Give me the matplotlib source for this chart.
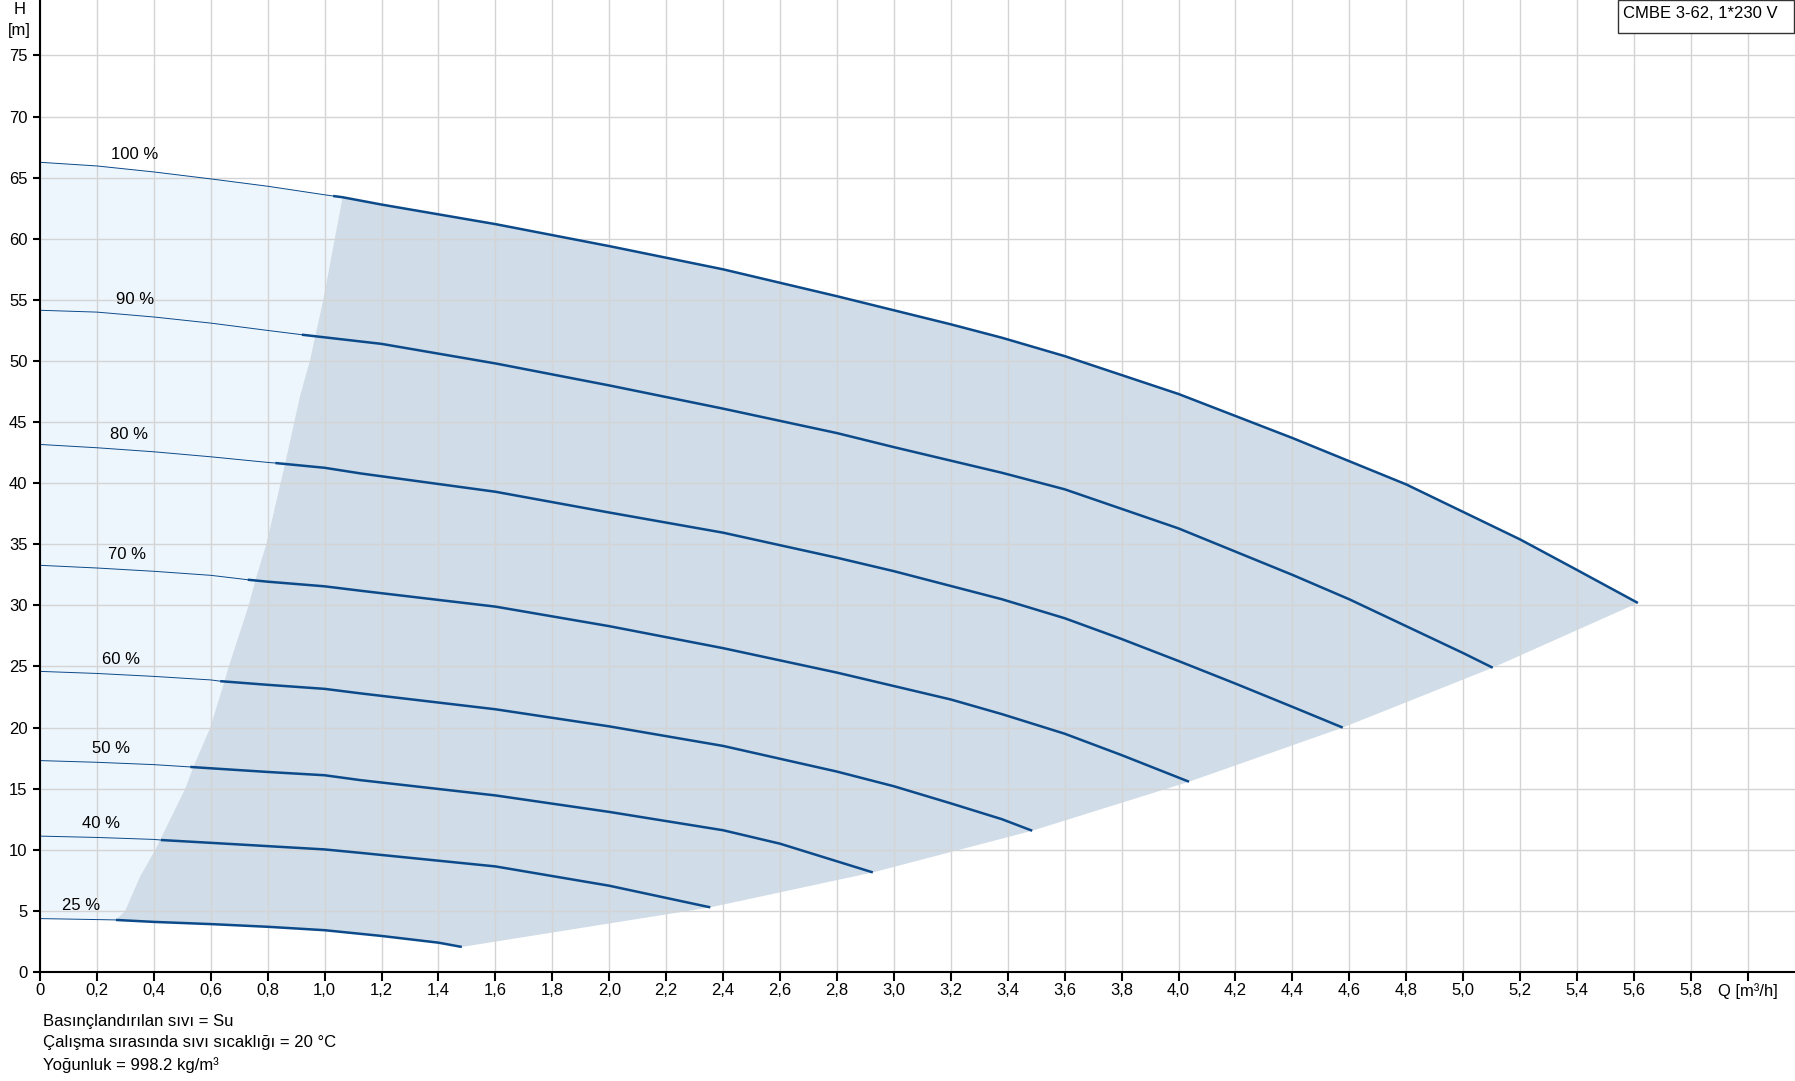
import matplotlib
matplotlib.use("Agg")
import matplotlib.pyplot as plt
import matplotlib.patches as patches
import numpy as np

plt.rcParams['font.family'] = ['Liberation Sans', 'DejaVu Sans']

# pump curves, Q [m3/h] / H [m]
speeds = [100, 90, 80, 70, 60, 50, 40, 25]

q_100 = [0, 0.2, 0.4, 0.6, 0.8, 1.0, 1.03, 1.063, 1.2, 1.6, 2.0, 2.4, 2.8, 3.2, 3.38, 3.6, 4.0, 4.4, 4.8, 5.2, 5.4, 5.614]
h_100 = [66.26, 65.96, 65.47, 64.9, 64.3, 63.6, 63.5, 63.4, 62.8, 61.2, 59.4, 57.5, 55.3, 53.0, 51.9, 50.4, 47.3, 43.7, 39.9, 35.4, 32.9, 30.2]

q_90 = [0, 0.2, 0.4, 0.6, 0.8, 0.92, 1.2, 1.6, 2.0, 2.4, 2.8, 3.0, 3.38, 3.6, 4.0, 4.4, 4.6, 4.8, 5.0, 5.104]
h_90 = [54.15, 54.0, 53.6, 53.1, 52.5, 52.15, 51.4, 49.8, 48.0, 46.1, 44.1, 42.95, 40.85, 39.5, 36.3, 32.5, 30.5, 28.3, 26.1, 24.9]

q_80 = [0, 0.2, 0.4, 0.6, 0.8, 0.827, 1.0, 1.126, 1.6, 2.0, 2.4, 2.8, 3.0, 3.38, 3.6, 3.8, 4.0, 4.2, 4.4, 4.577]
h_80 = [43.17, 42.9, 42.57, 42.16, 41.7, 41.65, 41.26, 40.8, 39.3, 37.6, 35.95, 33.9, 32.8, 30.5, 28.95, 27.25, 25.45, 23.6, 21.7, 20.0]

q_70 = [0, 0.2, 0.4, 0.6, 0.73, 0.8, 1.0, 1.126, 1.6, 2.0, 2.4, 2.8, 3.2, 3.38, 3.6, 3.8, 4.037]
h_70 = [33.28, 33.06, 32.79, 32.46, 32.1, 31.94, 31.56, 31.2, 29.9, 28.3, 26.5, 24.5, 22.3, 21.1, 19.5, 17.75, 15.57]

q_60 = [0, 0.2, 0.4, 0.6, 0.633, 0.8, 1.0, 1.126, 1.6, 2.0, 2.4, 2.8, 3.0, 3.2, 3.38, 3.486]
h_60 = [24.6, 24.43, 24.19, 23.9, 23.8, 23.5, 23.17, 22.8, 21.5, 20.1, 18.5, 16.4, 15.2, 13.8, 12.5, 11.56]

q_50 = [0, 0.2, 0.4, 0.528, 0.6, 0.8, 1.0, 1.126, 1.6, 2.0, 2.4, 2.6, 2.926]
h_50 = [17.3, 17.16, 16.97, 16.78, 16.67, 16.37, 16.1, 15.7, 14.45, 13.1, 11.6, 10.5, 8.15]

q_40 = [0, 0.2, 0.4, 0.425, 0.6, 0.8, 1.0, 1.126, 1.6, 2.0, 2.355]
h_40 = [11.12, 11.01, 10.85, 10.8, 10.57, 10.3, 10.03, 9.75, 8.64, 7.06, 5.29]

q_25 = [0, 0.2, 0.267, 0.4, 0.6, 0.8, 1.0, 1.2, 1.4, 1.482]
h_25 = [4.37, 4.29, 4.26, 4.1, 3.92, 3.7, 3.42, 2.95, 2.4, 2.05]

# flow where the thin (min. flow) part ends
q_min = [1.03, 0.92, 0.827, 0.73, 0.633, 0.528, 0.425, 0.267]

# left edge of the operating area (top to bottom)
edge_q = [1.063, 0.995, 0.948, 0.913, 0.862, 0.845, 0.795, 0.757, 0.733, 0.663, 0.639, 0.598, 0.54, 0.51, 0.405, 0.352, 0.299, 0.267]
edge_h = [63.4, 55.0, 50.0, 47.1, 41.7, 40.0, 35.0, 32.1, 30.0, 25.0, 23.1, 20.0, 16.86, 15.0, 10.0, 7.84, 5.0, 4.26]

# label positions
label_q = [0.332, 0.334, 0.314, 0.305, 0.283, 0.248, 0.213, 0.143]
label_h = [66.9, 55.0, 44.0, 34.2, 25.6, 18.3, 12.17, 5.43]

curves_q = [q_100, q_90, q_80, q_70, q_60, q_50, q_40, q_25]
curves_h = [h_100, h_90, h_80, h_70, h_60, h_50, h_40, h_25]

fig = plt.figure(figsize=(17.95, 10.81), dpi=100)
ax = fig.add_axes([40 / 1795, 109 / 1081, 1755 / 1795, 972 / 1081])

line_col = '#0c4a8a'

# light area left of the edge
q1 = np.array(q_100)
h1 = np.array(h_100)
top_q = list(q1[q1 <= edge_q[0]])
top_h = list(h1[q1 <= edge_q[0]])
q25 = np.array(q_25)
h25 = np.array(h_25)
bot_mask = q25 <= edge_q[-1]
poly_q = top_q + edge_q + list(q25[bot_mask][::-1])
poly_h = top_h + edge_h + list(h25[bot_mask][::-1])
ax.fill(poly_q, poly_h, color='#eef6fd', lw=0, zorder=1)

# operating area
end_q = [c[-1] for c in curves_q[1:]]
end_h = [c[-1] for c in curves_h[1:]]
top_mask = q1 >= edge_q[0]
bot_mask = q25 >= edge_q[-1]
poly_q = list(q1[top_mask]) + end_q + list(q25[bot_mask][::-1]) + edge_q[::-1]
poly_h = list(h1[top_mask]) + end_h + list(h25[bot_mask][::-1]) + edge_h[::-1]
ax.fill(poly_q, poly_h, color='#d0dce7', lw=0, zorder=1)

for i in range(len(speeds)):
    q = np.array(curves_q[i])
    h = np.array(curves_h[i])
    thin = q <= q_min[i]
    thick = q >= q_min[i]
    ax.plot(q[thin], h[thin], color=line_col, lw=0.7, zorder=3)
    ax.plot(q[thick], h[thick], color=line_col, lw=1.8, zorder=3,
            solid_capstyle='butt', solid_joinstyle='round')
    ax.text(label_q[i], label_h[i], '%d %%' % speeds[i], fontsize=12,
            ha='center', va='center', zorder=4)

ax.set_xlim(0, 6.166)
ax.set_ylim(0, 79.54)

xt = np.round(np.arange(0, 6.01, 0.2), 1)
xl = []
for v in xt:
    if v == 0:
        xl.append('0')
    elif v == 6.0:
        xl.append('Q [m³/h]')
    else:
        xl.append(('%.1f' % v).replace('.', ','))
ax.set_xticks(xt)
ax.set_xticklabels(xl)
ax.set_yticks(np.arange(0, 76, 5))

ax.set_axisbelow(False)
ax.grid(True, color='#d4d4d4', lw=1.0, zorder=2)
for s in ['top', 'right']:
    ax.spines[s].set_visible(False)
for s in ['left', 'bottom']:
    ax.spines[s].set_linewidth(1.5)
    ax.spines[s].set_color('black')
    ax.spines[s].set_zorder(5)

ax.tick_params(axis='x', length=6.5, width=1.5, pad=1.5, labelsize=12)
ax.tick_params(axis='y', length=5, width=1.5, pad=4, labelsize=12)

fig.text(19.5 / 1795, 1 - 10 / 1081, 'H', fontsize=12, ha='center', va='center')
fig.text(19.5 / 1795, 1 - 30 / 1081, '[m]', fontsize=12, ha='center', va='center')

# title box top right
box = patches.Rectangle((1617.7 / 1795, 1 - 32.7 / 1081), 176 / 1795, 33 / 1081,
                        transform=fig.transFigure, fc='white', ec='#333333', lw=1.0,
                        zorder=10)
fig.patches.append(box)
fig.text(1623 / 1795, 1 - 13.5 / 1081, 'CMBE 3-62, 1*230 V', fontsize=12,
         ha='left', va='center', zorder=11)

notes = ['Basınçlandırılan sıvı = Su',
         'Çalışma sırasında sıvı sıcaklığı = 20 °C',
         'Yoğunluk = 998.2 kg/m³']
note_y = [1021.7, 1043, 1065]
for t, y in zip(notes, note_y):
    fig.text(43 / 1795, 1 - y / 1081, t, fontsize=12, ha='left', va='center')

fig.savefig('out.png', dpi=100)
